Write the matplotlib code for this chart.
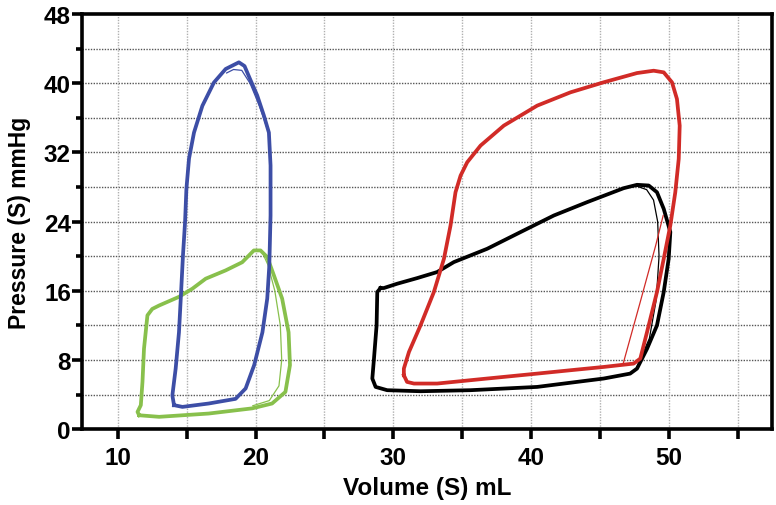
import numpy as np
import matplotlib.pyplot as plt

plt.rcParams['font.family'] = ['Liberation Sans', 'DejaVu Sans']
plt.rcParams['font.weight'] = 'bold'

# pressure-volume loops (volume mL, pressure mmHg)
blue_vol = [14.08, 14.69, 16.6, 18.55, 19.28, 19.9, 20.5, 20.85, 21.0, 21.09, 21.09,
            20.97, 20.6, 20.12, 19.6, 19.2, 18.79, 17.83, 16.98, 16.14, 15.53, 15.17,
            14.98, 14.88, 14.73, 14.57, 14.44, 14.2, 13.96, 14.08]
blue_pres = [2.77, 2.57, 2.96, 3.5, 4.7, 7.4, 11.2, 15.1, 18.9, 24.7, 30.5,
             34.3, 36.3, 38.6, 40.5, 42.0, 42.43, 41.66, 40.1, 37.4, 34.3, 31.3,
             27.8, 23.9, 20.1, 15.1, 11.2, 7.0, 3.9, 2.77]
# thinner second trace under the peak
blue_arc_vol = [17.9, 18.4, 19.0, 19.6, 20.3, 20.8]
blue_arc_pres = [41.2, 41.6, 41.5, 40.0, 37.3, 35.0]

green_vol = [11.55, 13.0, 16.6, 19.76, 21.2, 22.17, 22.5, 22.4, 21.93, 21.33, 20.85,
             20.36, 19.88, 19.03, 17.83, 16.38, 15.41, 14.44, 13.0, 12.5, 12.15,
             11.9, 11.79, 11.67, 11.43, 11.55]
green_pres = [1.6, 1.42, 1.8, 2.4, 2.96, 4.3, 7.4, 11.2, 15.1, 17.8, 19.9,
              20.67, 20.67, 19.3, 18.36, 17.4, 16.24, 15.3, 14.3, 13.9, 13.16,
              9.3, 5.46, 2.77, 1.99, 1.6]
green_arc_vol = [20.5, 20.9, 21.4, 21.8, 21.9, 21.7, 21.0, 19.8]
green_arc_pres = [20.4, 19.0, 16.0, 12.0, 8.0, 5.0, 3.3, 2.7]

black_vol = [29.08, 28.84, 28.79, 28.6, 28.48, 28.72, 29.56, 31.98, 35.6, 40.45,
             45.28, 47.2, 47.7, 48.43, 49.15, 49.64, 50.0, 50.12, 49.64, 49.15,
             48.55, 47.7, 46.73, 44.07, 41.66, 39.24, 36.82, 34.4, 33.19, 31.74,
             30.29, 29.32, 29.08]
black_pres = [16.32, 15.86, 12.0, 8.15, 5.85, 4.88, 4.5, 4.38, 4.5, 4.88,
              5.85, 6.42, 7.0, 9.3, 12.0, 15.86, 19.7, 22.8, 25.48, 27.4,
              28.18, 28.26, 27.87, 26.25, 24.71, 22.79, 20.86, 19.32, 18.17, 17.47,
              16.82, 16.32, 16.32]
black_arc_vol = [46.7, 47.7, 48.4, 48.9, 49.2, 49.3, 49.1, 48.6, 47.7]
black_arc_pres = [27.9, 28.1, 27.7, 26.5, 24.0, 20.0, 15.0, 10.5, 7.2]

red_vol = [30.77, 31.0, 31.5, 33.19, 36.82, 40.45, 42.87, 45.28, 47.46, 47.94,
           48.43, 49.15, 49.64, 50.12, 50.48, 50.73, 50.8, 50.6, 50.24, 49.64,
           48.91, 47.7, 45.28, 42.87, 40.45, 38.03, 36.34, 35.37, 34.89, 34.52,
           34.16, 33.68, 32.95, 31.98, 31.14, 30.77, 30.77]
red_pres = [6.23, 5.46, 5.27, 5.27, 5.85, 6.42, 6.81, 7.19, 7.58, 8.16,
            11.24, 15.86, 19.7, 23.56, 27.4, 31.26, 35.1, 38.19, 40.12, 41.27,
            41.46, 41.19, 40.12, 38.96, 37.42, 35.11, 32.8, 30.87, 29.33, 27.4,
            23.56, 19.7, 15.86, 12.0, 8.92, 7.0, 6.23]
red_arc_vol = [46.7, 47.9, 49.05, 49.6]
red_arc_pres = [7.6, 14.5, 21.2, 24.7]

x_ticks = [10, 15, 20, 25, 30, 35, 40, 45, 50, 55]
x_labels = ['10', '', '20', '', '30', '', '40', '', '50', '']
y_major = [0, 8, 16, 24, 32, 40, 48]
y_minor = [4, 12, 20, 28, 36, 44]

fig = plt.figure(figsize=(7.76, 5.06), dpi=100)
ax = fig.add_axes([0.1057, 0.150, 0.8891, 0.820])

loops = [
    (green_vol, green_pres, green_arc_vol, green_arc_pres, '#88c04c'),
    (blue_vol, blue_pres, blue_arc_vol, blue_arc_pres, '#3d4ea6'),
    (black_vol, black_pres, black_arc_vol, black_arc_pres, 'black'),
    (red_vol, red_pres, red_arc_vol, red_arc_pres, '#d12b27'),
]
for v, p, av, ap, c in loops:
    ax.plot(v, p, color=c, lw=2.7, solid_joinstyle='round')
    ax.plot(av, ap, color=c, lw=0.9)

ax.set_xlim(7.4, 57.5)
ax.set_ylim(0, 48)
ax.set_xticks(x_ticks)
ax.set_xticklabels(x_labels)
ax.set_yticks(y_major)
ax.set_yticks(y_minor, minor=True)

for y in y_major[1:-1] + y_minor:
    ax.axhline(y, color='#555555', lw=1, ls=(0, (1, 1)), zorder=0)
for x in x_ticks:
    ax.axvline(x, color='#b0b0b0', lw=1, ls=(0, (1, 1)), zorder=0)

for s in ax.spines.values():
    s.set_linewidth(2.6)
ax.tick_params(axis='x', length=7, width=2.6, labelsize=17.5, pad=5)
ax.tick_params(axis='y', which='major', length=7, width=2.6, labelsize=17.5, pad=1)
ax.tick_params(axis='y', which='minor', length=4, width=2.6)

ax.set_xlabel('Volume (S) mL', fontsize=17.5, fontweight='bold', labelpad=5)
ax.set_ylabel('Pressure (S) mmHg', fontsize=16.5, fontweight='bold', labelpad=9)

fig.savefig('out.png', dpi=100)
